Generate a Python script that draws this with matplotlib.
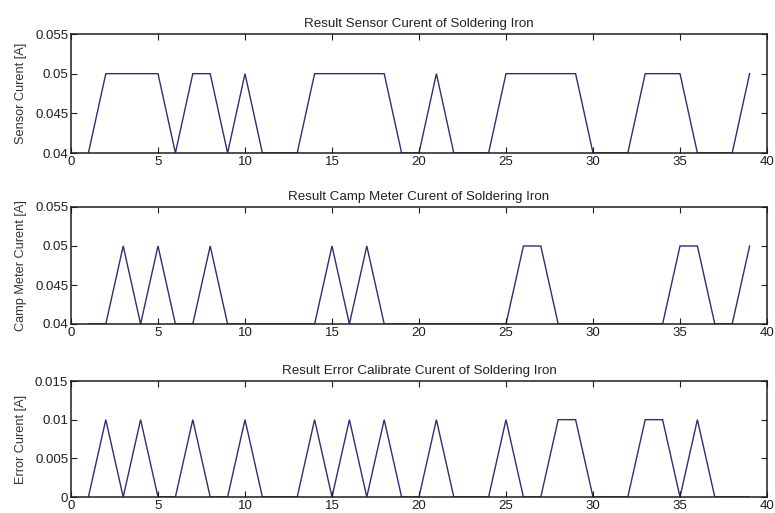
import matplotlib
matplotlib.use("Agg")
import matplotlib.pyplot as plt

plt.rcParams['font.family'] = ['Liberation Sans', 'DejaVu Sans']

# Sample index
samples = list(range(1, 40))

# Current read by the sensor [A]
sensor_current = [0.04, 0.05, 0.05, 0.05, 0.05, 0.04, 0.05, 0.05, 0.04, 0.05,
                  0.04, 0.04, 0.04, 0.05, 0.05, 0.05, 0.05, 0.05, 0.04, 0.04,
                  0.05, 0.04, 0.04, 0.04, 0.05, 0.05, 0.05, 0.05, 0.05, 0.04,
                  0.04, 0.04, 0.05, 0.05, 0.05, 0.04, 0.04, 0.04, 0.05]

# Current read by the clamp meter [A]
clamp_current = [0.04, 0.04, 0.05, 0.04, 0.05, 0.04, 0.04, 0.05, 0.04, 0.04,
                 0.04, 0.04, 0.04, 0.04, 0.05, 0.04, 0.05, 0.04, 0.04, 0.04,
                 0.04, 0.04, 0.04, 0.04, 0.04, 0.05, 0.05, 0.04, 0.04, 0.04,
                 0.04, 0.04, 0.04, 0.04, 0.05, 0.05, 0.04, 0.04, 0.05]

# Calibration error [A]
error_current = [0.0, 0.01, 0.0, 0.01, 0.0, 0.0, 0.01, 0.0, 0.0, 0.01,
                 0.0, 0.0, 0.0, 0.01, 0.0, 0.01, 0.0, 0.01, 0.0, 0.0,
                 0.01, 0.0, 0.0, 0.0, 0.01, 0.0, 0.0, 0.01, 0.01, 0.0,
                 0.0, 0.0, 0.01, 0.01, 0.0, 0.01, 0.0, 0.0, 0.0]

titles = ["Result Sensor Curent of Soldering Iron",
          "Result Camp Meter Curent of Soldering Iron",
          "Result Error Calibrate Curent of Soldering Iron"]
ylabels = ["Sensor Curent [A]", "Camp Meter Curent [A]", "Error Curent [A]"]
yticks_list = [[0.04, 0.045, 0.05, 0.055],
               [0.04, 0.045, 0.05, 0.055],
               [0, 0.005, 0.01, 0.015]]
yticklabels_list = [["0.04", "0.045", "0.05", "0.055"],
                    ["0.04", "0.045", "0.05", "0.055"],
                    ["0", "0.005", "0.01", "0.015"]]
xticks = [0, 5, 10, 15, 20, 25, 30, 35, 40]

W, H = 775, 513
fig = plt.figure(figsize=(W / 100, H / 100), dpi=100)

# axes boxes in pixels: left, top, right, bottom
boxes = [(71, 34, 767, 153), (71, 207, 767, 324), (71, 381, 767, 497)]
series = [sensor_current, clamp_current, error_current]
line_color = "#2e2e72"
axis_color = "#1e1e1e"

for box, ys, title, ylab, yt, ytl in zip(boxes, series, titles, ylabels,
                                         yticks_list, yticklabels_list):
    l, t, r, b = box
    ax = fig.add_axes([l / W, 1 - b / H, (r - l) / W, (b - t) / H])
    ax.plot(samples, ys, color=line_color, linewidth=1.0, zorder=1,
            solid_joinstyle="miter")
    ax.set_xlim(0, 40)
    ax.set_ylim(yt[0], yt[-1])
    ax.set_xticks(xticks)
    ax.set_xticklabels([str(v) for v in xticks])
    ax.set_yticks(yt)
    ax.set_yticklabels(ytl)
    ax.tick_params(direction="in", top=True, right=True, length=4,
                   width=0.8, labelsize=9.5, colors=axis_color, pad=2)
    for s in ax.spines.values():
        s.set_linewidth(1.1)
        s.set_color(axis_color)
        s.set_zorder(3)
    ax.set_title(title, fontsize=9.6, pad=5, color="#222222")
    ax.set_ylabel(ylab, fontsize=9.2, labelpad=6, color="#333333")

fig.savefig("out.png", dpi=100, facecolor="white")
